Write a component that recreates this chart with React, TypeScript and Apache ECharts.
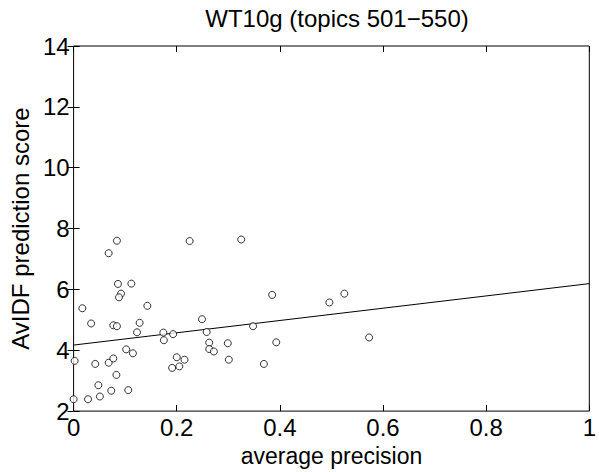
import React, { useEffect, useRef } from "react";
import * as echarts from "echarts";

const avgPrecision = [
  0.002, 0.0, 0.017, 0.034, 0.042, 0.028, 0.048, 0.051, 0.068, 0.084,
  0.077, 0.084, 0.068, 0.077, 0.083, 0.073, 0.086, 0.092, 0.088, 0.112,
  0.102, 0.115, 0.106, 0.123, 0.128, 0.143, 0.174, 0.175, 0.193, 0.2,
  0.191, 0.205, 0.215, 0.225, 0.249, 0.258, 0.263, 0.263, 0.272, 0.299,
  0.301, 0.325, 0.348, 0.369, 0.385, 0.393, 0.496, 0.525, 0.573,
];
const avidfScore = [
  3.65, 2.39, 5.38, 4.88, 3.55, 2.39, 2.85, 2.48, 7.19, 7.6,
  4.82, 4.79, 3.59, 3.73, 3.19, 2.67, 6.18, 5.86, 5.74, 6.19,
  4.03, 3.9, 2.69, 4.59, 4.9, 5.46, 4.58, 4.33, 4.53, 3.77,
  3.42, 3.47, 3.69, 7.59, 5.02, 4.6, 4.25, 4.04, 3.96, 4.23,
  3.69, 7.64, 4.79, 3.55, 5.82, 4.26, 5.57, 5.86, 4.42,
];
const fitX = [0, 1];
const fitY = [4.17, 6.19];

const FONT = "'Liberation Sans', Arial, Helvetica, sans-serif";

export default function App() {
  const ref = useRef<HTMLDivElement>(null);
  useEffect(() => {
    if (!ref.current) return;
    document.body.style.margin = "0";
    document.body.style.overflow = "hidden";
    const chart = echarts.init(ref.current, undefined, { renderer: "svg" });
    const axisCommon = {
      axisLine: { show: false },
      axisTick: { show: true, inside: true, length: 6, lineStyle: { color: "#000", width: 1 } },
      splitLine: { show: false },
    };
    chart.setOption({
      animation: false,
      backgroundColor: "#fff",
      textStyle: { fontFamily: FONT },
      title: {
        text: "WT10g (topics 501\u2212550)",
        left: 332,
        top: 1,
        textAlign: "center",
        textStyle: { fontFamily: FONT, fontSize: 24, fontWeight: "normal", color: "#000" },
      },
      grid: {
        left: 68,
        right: 2,
        top: 46,
        bottom: 53,
        containLabel: false,
        show: true,
        borderColor: "#000",
        borderWidth: 1,
        backgroundColor: "transparent",
      },
      xAxis: [
        {
          type: "value",
          min: 0,
          max: 1,
          interval: 0.2,
          position: "bottom",
          name: "average precision",
          nameLocation: "middle",
          nameGap: 28,
          nameTextStyle: { fontFamily: FONT, fontSize: 23, color: "#000" },
          axisLabel: {
            fontFamily: FONT,
            fontSize: 24,
            color: "#000",
            margin: 4,
            formatter: (v: number) => (v === 0 || v === 1 ? String(v) : v.toFixed(1)),
          },
          ...axisCommon,
        },
        {
          type: "value",
          min: 0,
          max: 1,
          interval: 0.2,
          position: "top",
          axisLabel: { show: false },
          ...axisCommon,
        },
      ],
      yAxis: [
        {
          type: "value",
          min: 2,
          max: 14,
          interval: 2,
          position: "left",
          name: "AvIDF prediction score",
          nameLocation: "middle",
          nameGap: 40,
          nameTextStyle: { fontFamily: FONT, fontSize: 24, color: "#000" },
          axisLabel: { fontFamily: FONT, fontSize: 24, color: "#000", margin: 4, padding: [4, 0, 0, 0] },
          ...axisCommon,
        },
        {
          type: "value",
          min: 2,
          max: 14,
          interval: 2,
          position: "right",
          axisLabel: { show: false },
          ...axisCommon,
        },
      ],
      series: [
        {
          type: "scatter",
          xAxisIndex: 0,
          yAxisIndex: 0,
          symbol: "circle",
          symbolSize: 7,
          itemStyle: { color: "#fff", borderColor: "#000", borderWidth: 1 },
          data: avgPrecision.map((x, i) => [x, avidfScore[i]]),
          z: 3,
        },
        {
          type: "line",
          xAxisIndex: 0,
          yAxisIndex: 0,
          showSymbol: false,
          symbol: "none",
          lineStyle: { color: "#000", width: 1 },
          data: fitX.map((x, i) => [x, fitY[i]]),
          z: 2,
        },
      ],
    });
    return () => chart.dispose();
  }, []);
  return (
    <div
      ref={ref}
      style={{ position: "fixed", left: 0, top: 0, width: 599, height: 472 }}
    />
  );
}
